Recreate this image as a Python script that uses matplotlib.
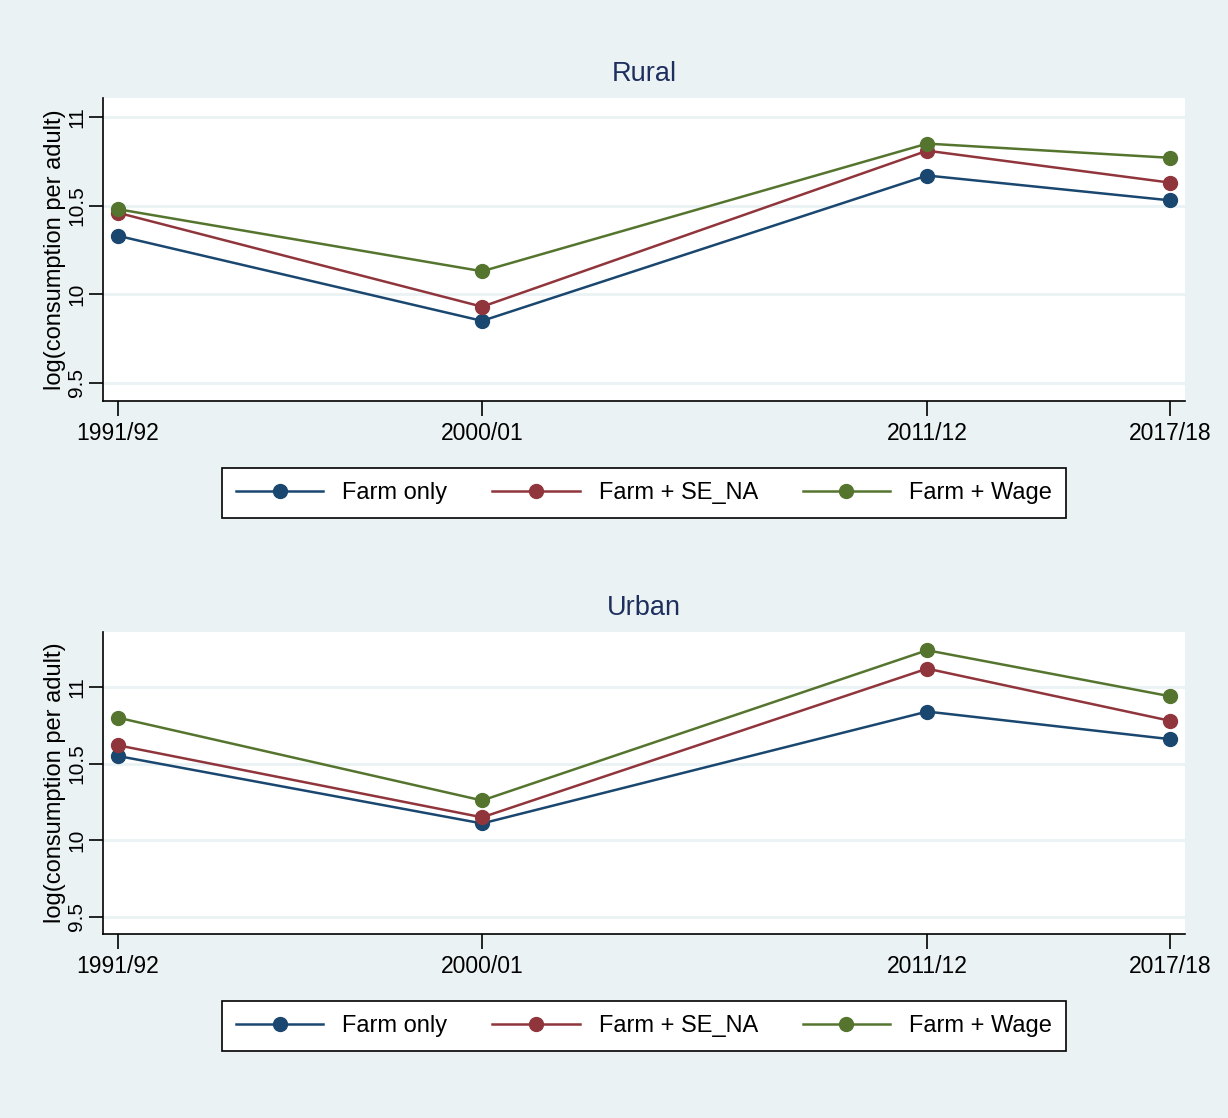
import numpy as np
import matplotlib.pyplot as plt
from matplotlib.lines import Line2D

# datos
years = [1991, 2000, 2011, 2017]
year_labels = ['1991/92', '2000/01', '2011/12', '2017/18']
series_names = ['Farm only', 'Farm + SE_NA', 'Farm + Wage']

rural_farm = [10.33, 9.85, 10.67, 10.53]
rural_se_na = [10.46, 9.93, 10.81, 10.63]
rural_wage = [10.48, 10.13, 10.85, 10.77]

urban_farm = [10.55, 10.11, 10.84, 10.66]
urban_se_na = [10.62, 10.15, 11.12, 10.78]
urban_wage = [10.80, 10.26, 11.24, 10.94]

colors = ['#1a476f', '#90353b', '#55752f']
bg = '#eaf2f3'

plt.rcParams['font.family'] = ['Liberation Sans', 'DejaVu Sans']

fig = plt.figure(figsize=(12.28, 11.18), dpi=100, facecolor=bg)


def panel(rect, title, data, ylim, legend_y):
    ax = fig.add_axes(rect)
    ax.set_facecolor('white')
    for vals, c, name in zip(data, colors, series_names):
        ax.plot(years, vals, color=c, lw=1.8, marker='o', markersize=10,
                label=name, zorder=3)
    ax.set_xlim(1990.63, 2017.37)
    ax.set_ylim(*ylim)
    ax.set_xticks(years)
    ax.set_xticklabels(year_labels, fontsize=16.5)
    ax.set_yticks([9.5, 10, 10.5, 11])
    ax.set_yticklabels(['9.5', '10', '10.5', '11'], fontsize=15,
                       rotation=90, va='center')
    ax.grid(axis='y', color=bg, lw=2, zorder=0)
    ax.set_axisbelow(True)
    for s in ['top', 'right']:
        ax.spines[s].set_visible(False)
    ax.spines['left'].set_linewidth(1.2)
    ax.spines['bottom'].set_linewidth(1.2)
    ax.tick_params(axis='x', length=11, width=1.2, pad=4)
    ax.tick_params(axis='y', length=10, width=1.2, pad=2)
    ax.set_ylabel('log(consumption per adult)', fontsize=17, labelpad=1)
    ax.set_title(title, fontsize=19.5, color='#1e2f5e', pad=12)

    handles = [Line2D([], [], color=c, lw=1.8, marker='o', markersize=10)
               for c in colors]
    leg = fig.legend(handles, series_names, loc='center',
                     bbox_to_anchor=(0.5244, legend_y), ncol=3, fontsize=17,
                     frameon=True, fancybox=False, edgecolor='black',
                     facecolor='white', framealpha=1, handlelength=3.7,
                     handletextpad=0.8, columnspacing=1.9, borderpad=0.6,
                     markerscale=1.0)
    leg.get_frame().set_linewidth(1.2)
    return ax


panel([0.0839, 0.6413, 0.881, 0.271], 'Rural',
      [rural_farm, rural_se_na, rural_wage], (9.398, 11.107), 0.559)
panel([0.0839, 0.1646, 0.881, 0.2701], 'Urban',
      [urban_farm, urban_se_na, urban_wage], (9.389, 11.359), 0.0823)

fig.savefig('out.png', dpi=100, facecolor=bg)
